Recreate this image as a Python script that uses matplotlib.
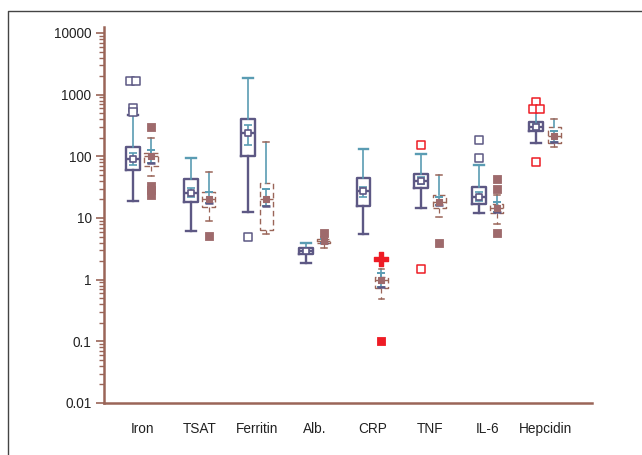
import matplotlib
matplotlib.use("Agg")
import matplotlib.pyplot as plt
from matplotlib.lines import Line2D
from matplotlib.ticker import LogLocator, FixedLocator, FixedFormatter, NullFormatter
import numpy as np

plt.rcParams['font.family'] = ['Liberation Sans', 'DejaVu Sans']

categories = ["Iron", "TSAT", "Ferritin", "Alb.", "CRP", "TNF", "IL-6", "Hepcidin"]

# Group 1 (solid boxes)
g1_lo   = [19, 6.2, 12.6, 1.88, 5.6, 14.6, 12.2, 165]
g1_q1   = [60, 18.3, 102, 2.63, 15.7, 31, 17, 259]
g1_med  = [91, 25.7, 240, 2.96, 27.6, 40, 22, 300]
g1_q3   = [143, 43, 405, 3.3, 45, 52, 32, 363]
g1_hi   = [470, 95, 1870, 3.97, 132, 110, 73, 560]
g1_mean = [90, 25.7, 240, 2.96, 27.6, 40, 22, 300]
g1_cilo = [73, 22, 154, 2.8, 22, 35, 19, 280]
g1_cihi = [114, 31, 324, 3.1, 32, 46, 26, 330]
g1_fliers = [[1660, 1660, 610, 525], [], [5.0], [], [], [153, 1.5], [185, 95], [763, 585, 585, 81]]
g1_flier_red = [False, False, False, False, False, True, False, True]

# Group 2 (dashed boxes)
g2_lo   = [48, 9.1, 5.5, 3.3, 0.49, 10.5, 8.1, 143]
g2_q1   = [70, 15, 6.3, 3.9, 0.74, 14.6, 12, 165]
g2_med  = [102, 20.5, 20.5, 4.3, 1.0, 18.3, 14.6, 215]
g2_q3   = [114, 26.6, 37, 4.6, 1.12, 24, 17, 300]
g2_hi   = [200, 56, 172, 5.0, 1.5, 50, 24, 405]
g2_mean = [102, 20.5, 20.5, 4.3, 1.0, 18.3, 14.6, 215]
g2_cilo = [78, 17.7, 15.8, 4.0, 0.77, 16.4, 12.5, 172]
g2_cihi = [128, 26, 30, 4.6, 1.3, 22, 18, 260]
g2_fliers = [[300, 33, 28, 24], [5.1], [], [5.8], [0.1], [4.0], [43, 29, 5.8], []]
g2_flier_red = [False, False, False, False, True, False, False, False]
g2_red_plus = [[], [], [], [], [2.2], [], [], []]

ytick_vals = [0.01, 0.1, 1, 10, 100, 1000, 10000]
ytick_labels = ["0.01", "0.1", "1", "10", "100", "1000", "10000"]

PURPLE = "#5d5884"
TEAL = "#5a9cb3"
BROWN = "#9a6558"
BROWNFILL = "#9e6a6c"
RED = "#ee1c25"

W, H = 642, 455
fig = plt.figure(figsize=(W / 100, H / 100), dpi=100)
ax = fig.add_axes([104 / W, 1 - 403 / H, (592 - 104) / W, (403 - 27) / H])
ax.set_yscale('log')

pos = np.arange(1, len(categories) + 1)
off = 0.156
bw = 0.24

def stats(lo, q1, med, q3, hi, mean):
    return [dict(whislo=lo[i], q1=q1[i], med=med[i], q3=q3[i], whishi=hi[i],
                 mean=mean[i], fliers=[]) for i in range(len(lo))]

s1 = stats(g1_lo, g1_q1, g1_med, g1_q3, g1_hi, g1_mean)
s2 = stats(g2_lo, g2_q1, g2_med, g2_q3, g2_hi, g2_mean)

b1 = ax.bxp(s1, positions=pos - off, widths=bw, showmeans=False, showfliers=False,
            boxprops=dict(color=PURPLE, linewidth=1.7),
            medianprops=dict(color=PURPLE, linewidth=1.7),
            whiskerprops=dict(color=PURPLE, linewidth=1.7),
            capprops=dict(color=PURPLE, linewidth=1.7), capwidths=0.17,
            manage_ticks=False)
for i in range(len(categories)):
    b1['whiskers'][2 * i + 1].set_color(TEAL)
    b1['whiskers'][2 * i + 1].set_linewidth(1.2)
    b1['caps'][2 * i + 1].set_color(TEAL if i not in (0,) else PURPLE)

b2 = ax.bxp(s2, positions=pos + off, widths=bw * 0.95, showmeans=False, showfliers=False,
            boxprops=dict(color=BROWN, linewidth=1.0, linestyle=(0, (4, 2.5))),
            medianprops=dict(color=BROWN, linewidth=1.0, linestyle=(0, (4, 2.5))),
            whiskerprops=dict(color=BROWN, linewidth=0.9, linestyle=(0, (4, 3))),
            capprops=dict(color=BROWN, linewidth=1.1), capwidths=0.1,
            manage_ticks=False)
for i in range(len(categories)):
    b2['whiskers'][2 * i + 1].set_color(TEAL)
    b2['whiskers'][2 * i + 1].set_linestyle('-')
    b2['whiskers'][2 * i + 1].set_linewidth(1.2)

# confidence intervals of the mean
m1 = np.array(g1_mean)
ax.errorbar(pos - off, m1, yerr=[m1 - np.array(g1_cilo), np.array(g1_cihi) - m1],
            fmt='none', ecolor=TEAL, elinewidth=1.2, capsize=3, capthick=1.2, zorder=4)
m2 = np.array(g2_mean)
ax.errorbar(pos + off, m2, yerr=[m2 - np.array(g2_cilo), np.array(g2_cihi) - m2],
            fmt='none', ecolor=TEAL, elinewidth=1.2, capsize=3, capthick=1.4, zorder=4)
# lower CI caps of group 2 in purple
ax.scatter(pos + off, g2_cilo, marker='_', s=36, color=PURPLE, linewidths=1.8, zorder=5)

# means
ax.scatter(pos - off, g1_mean, marker='s', s=22, facecolor='white', edgecolor=PURPLE,
           linewidths=1.2, zorder=6)
ax.scatter(pos + off, g2_mean, marker='s', s=24, facecolor=BROWNFILL, edgecolor=BROWNFILL,
           linewidths=0.8, zorder=6)

def spread(vals):
    xs = []
    for j, v in enumerate(vals):
        dup = [k for k, w in enumerate(vals) if w == v]
        if len(dup) > 1:
            idx = dup.index(j)
            xs.append((idx - (len(dup) - 1) / 2) * 0.12)
        else:
            xs.append(0.0)
    return xs

for i in range(len(categories)):
    fl = g1_fliers[i]
    if fl:
        dx = spread(fl)
        col = RED if g1_flier_red[i] else PURPLE
        ax.scatter(pos[i] - off + np.array(dx), fl, marker='s', s=28, facecolor='white',
                   edgecolor=col, linewidths=1.1, zorder=7)
    fl = g2_fliers[i]
    if fl:
        col = RED if g2_flier_red[i] else BROWNFILL
        ax.scatter(np.full(len(fl), pos[i] + off), fl, marker='s', s=26, facecolor=col,
                   edgecolor=col, linewidths=0.6, zorder=7)
    if g2_red_plus[i]:
        ax.scatter(np.full(len(g2_red_plus[i]), pos[i] + off), g2_red_plus[i], marker='P',
                   s=95, color=RED, zorder=7)

ax.set_xlim(0.34, 8.81)
ax.set_ylim(0.01, 10 ** (4 + 6 / 61.67))

ax.yaxis.set_major_locator(FixedLocator(ytick_vals))
ax.yaxis.set_major_formatter(FixedFormatter(ytick_labels))
ax.yaxis.set_minor_locator(LogLocator(base=10, subs=np.arange(2, 10), numticks=20))
ax.yaxis.set_minor_formatter(NullFormatter())
ax.set_xticks(pos)
ax.set_xticklabels(categories)

for s in ['top', 'right']:
    ax.spines[s].set_visible(False)
for s in ['left', 'bottom']:
    ax.spines[s].set_color(BROWN)
    ax.spines[s].set_linewidth(1.8)

ax.tick_params(axis='y', which='major', direction='out', length=6, width=1.2, color=BROWN,
               labelsize=9.8, pad=3, labelcolor='#222222')
ax.tick_params(axis='y', which='minor', direction='out', length=3.5, width=1.0, color=BROWN)
ax.tick_params(axis='x', length=0, pad=14, labelsize=9.8, labelcolor='#222222')

# figure frame
fig.add_artist(Line2D([8 / W, 8 / W, 1.0], [0.0, 1 - 11 / H, 1 - 11 / H],
                      transform=fig.transFigure, color='#444444', linewidth=1.0))

fig.savefig("out.png", dpi=100)
